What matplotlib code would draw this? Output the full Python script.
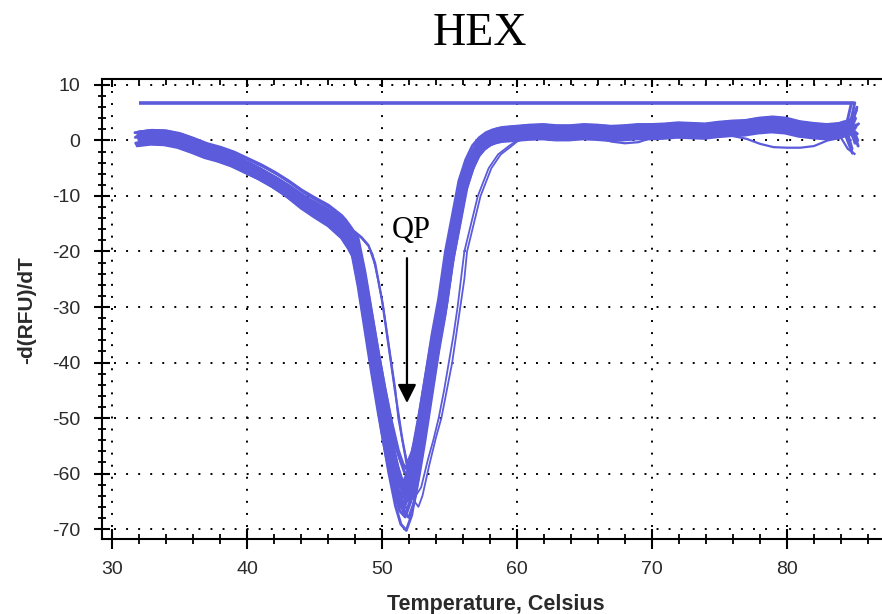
import matplotlib
matplotlib.use("Agg")
import matplotlib.pyplot as plt
import numpy as np
from matplotlib.ticker import MultipleLocator, FixedLocator

plt.rcParams["axes.unicode_minus"] = False

# ---------------- text ----------------
title = "HEX"
x_label = "Temperature, Celsius"
y_label = "-d(RFU)/dT"
annot_text = "QP"
x_ticks = [30, 40, 50, 60, 70, 80]
y_ticks = [10, 0, -10, -20, -30, -40, -50, -60, -70]

# ---------------- data ----------------
threshold = 6.8
threshold_span = [32.0, 85.0]

base_t = [32.0, 33.0, 34.0, 35.0, 36.0, 37.0, 38.0, 39.0, 40.0, 41.0, 42.0, 43.0,
          44.0, 45.0, 46.0, 47.0, 47.5, 48.0, 48.5, 49.0, 49.5, 50.0, 50.5, 51.0,
          51.4, 51.8, 52.2, 52.6, 53.0, 53.5, 54.0, 54.5, 55.0, 55.5, 56.0, 56.5,
          57.0, 57.5, 58.0, 58.5, 59.0, 60.0, 61.0, 62.0, 63.0, 64.0, 65.0, 66.0,
          67.0, 68.0, 69.0, 70.0, 71.0, 72.0, 73.0, 74.0, 75.0, 76.0, 77.0, 78.0,
          79.0, 80.0, 81.0, 82.0, 83.0, 84.0, 84.5, 85.0]
base_v = [0.3, 0.6, 0.5, 0.0, -0.9, -1.9, -2.6, -3.5, -4.7, -5.9, -7.3, -8.9,
          -10.7, -12.2, -13.6, -15.6, -17.3, -19.3, -25.5, -33.0, -40.5, -47.5, -54.0, -59.5,
          -62.5, -63.5, -61.0, -56.0, -50.5, -43.0, -35.5, -29.0, -20.7, -14.5, -8.2, -4.5,
          -2.0, -0.6, 0.3, 0.8, 1.1, 1.3, 1.5, 1.6, 1.4, 1.4, 1.6, 1.5,
          1.3, 1.4, 1.6, 1.6, 1.7, 1.9, 1.8, 1.7, 2.0, 2.2, 2.3, 2.7,
          2.9, 2.7, 2.1, 1.8, 1.6, 1.8, 2.2, 2.0]

# per-well variations of the main band
band_shift = [-0.30, -0.24, -0.18, -0.12, -0.08, -0.04, 0.00, 0.04, 0.08, 0.12, 0.18, 0.24,
              0.30, -0.27, -0.15, -0.02, 0.06, 0.15, 0.21, -0.21, -0.06, 0.10, 0.27, 0.02]
band_scale = [1.02, 0.96, 1.05, 0.98, 1.08, 1.00, 1.10, 0.95, 1.03, 0.99, 1.06, 0.97,
              1.01, 1.04, 0.96, 1.07, 0.98, 1.02, 0.94, 1.00, 1.05, 0.99, 1.03, 0.97]
band_offset = [1.1, -0.75, 0.4, -1.1, 0.75, 0.0, -0.4, 1.25, -1.0, 0.5, -0.6, 1.0,
               -0.1, 0.25, -1.25, 0.9, -0.5, 0.6, 0.1, -0.9, 1.2, -0.25, 0.45, -1.05]
band_end = [2.0, 6.6, -1.5, 3.5, 0.5, 5.0, 1.5, -0.5, 4.0, 2.5, 6.0, 0.0,
            3.0, 1.0, -2.3, 4.5, 2.2, 5.5, 1.2, 3.8, 0.8, 2.8, -1.0, 6.8]

# outlier wells (peak region)
o1_t = [46.0, 47.0, 47.5, 48.0, 48.5, 49.0, 49.3, 49.7, 50.1, 50.4, 50.7, 51.0, 51.2,
        51.5, 51.85, 52.2, 52.6, 53.0, 53.5, 54.0, 54.5, 55.0, 55.5, 56.0, 56.5, 57.0, 58.0, 59.0]
o1_v = [-13.6, -15.2, -15.9, -16.6, -17.6, -19.0, -20.5, -25.0, -30.0, -35.0, -40.0, -45.0, -50.0,
        -54.0, -58.0, -56.0, -52.0, -46.5, -40.5, -34.0, -27.5, -20.5, -14.0, -8.0, -4.3, -1.9, 0.3, 1.1]
o2_t = [46.0, 47.0, 47.5, 48.0, 48.5, 49.0, 49.5, 50.0, 50.5, 51.0, 51.5, 52.0, 52.4,
        52.7, 53.0, 53.5, 54.0, 54.4, 54.8, 55.2, 55.5, 55.8, 56.1, 56.3, 56.8, 57.3, 58.1,
        58.8, 59.5, 60.0, 61.0]
o2_v = [-13.6, -15.2, -15.9, -16.6, -17.6, -19.0, -22.5, -29.0, -37.5, -46.0, -54.0, -61.0, -65.0,
        -66.0, -64.0, -58.5, -53.5, -50.0, -45.0, -40.0, -35.0, -30.0, -25.0, -20.0, -15.0, -10.0, -5.0,
        -2.5, -1.2, -0.2, 0.8]
o3_t = [46.0, 47.0, 47.5, 48.0, 48.5, 49.0, 49.5, 50.0, 50.5, 51.0, 51.5, 52.0, 52.5,
        52.9, 53.4, 53.8, 54.2, 54.6, 54.95, 55.3, 55.6, 55.85, 56.1, 56.6, 57.1, 57.9,
        58.6, 59.4, 60.0, 61.0]
o3_v = [-13.4, -15.0, -15.7, -16.4, -17.4, -18.8, -22.0, -28.5, -37.0, -45.5, -53.5, -60.0, -64.0,
        -62.5, -57.5, -54.0, -50.0, -45.0, -40.0, -35.0, -30.0, -25.0, -20.0, -15.0, -10.0, -5.0,
        -2.5, -1.0, 0.0, 0.9]
dip1_t = [62.0, 64.0, 66.0, 67.0, 68.0, 69.0, 70.0, 72.0]
dip1_v = [1.0, 0.8, 0.5, -0.2, -0.5, -0.3, 0.5, 1.0]
dip2_t = [76.0, 77.0, 78.0, 79.0, 80.0, 81.0, 82.0, 83.0, 84.0, 84.5, 85.0]
dip2_v = [0.8, 0.3, -0.6, -1.2, -1.3, -1.3, -1.0, 0.0, 0.5, -1.5, -2.4]

arrow_x = 51.85
arrow_from = -21.2
arrow_to = -47.3
annot_xy = (52.2, -17.5)

# ---------------- style ----------------
trace_color = "#5b5bdc"
text_color = "#2a2a2a"
W, H = 882, 614

fig = plt.figure(figsize=(W / 100, H / 100), dpi=100)
ax = fig.add_axes([102 / W, 1 - 539 / H, (890 - 102) / W, (539 - 79) / H])

ax.set_xlim(29.26, 87.63)
ax.set_ylim(-71.8, 11.08)

# threshold line
ax.plot(threshold_span, [threshold, threshold], color=trace_color, lw=2.6,
        solid_capstyle="butt", zorder=3)

bt = np.array(base_t)
bv = np.array(base_v)
for s, k, o, e in zip(band_shift, band_scale, band_offset, band_end):
    yy = k * bv + o
    yy[-1] = e
    ax.plot(bt + s, yy, color=trace_color, lw=2.1, solid_capstyle="round",
            solid_joinstyle="round", zorder=3)

for tt, vv in [(o1_t, o1_v), (o2_t, o2_v), (o3_t, o3_v)]:
    ax.plot(tt, vv, color=trace_color, lw=1.3, zorder=3)
for tt, vv in [(dip1_t, dip1_v), (dip2_t, dip2_v)]:
    ax.plot(tt, vv, color=trace_color, lw=1.6, zorder=3)

# grid
ax.xaxis.set_major_locator(FixedLocator(x_ticks))
ax.yaxis.set_major_locator(FixedLocator(y_ticks))
ax.xaxis.set_minor_locator(MultipleLocator(2))
ax.yaxis.set_minor_locator(MultipleLocator(2))
ax.grid(True, which="major", color="black", linestyle=(0, (1, 5.2)), linewidth=1.4, zorder=1)

for side in ["left", "bottom"]:
    ax.spines[side].set_linewidth(1.5)
    ax.spines[side].set_color("black")
ax.spines["right"].set_visible(False)
ax.spines["top"].set_visible(False)

ax.tick_params(axis="y", which="major", direction="inout", length=11, width=1.5,
               labelsize=14, labelcolor=text_color, pad=10)
ax.tick_params(axis="y", which="minor", direction="inout", length=6, width=1.3)
ax.tick_params(axis="x", which="major", direction="inout", length=15, width=1.5,
               labelsize=14, labelcolor=text_color, pad=8)
ax.tick_params(axis="x", which="minor", direction="inout", length=7, width=1.3)
for lab in ax.get_xticklabels() + ax.get_yticklabels():
    lab.set_family("Liberation Sans")

sec = ax.secondary_xaxis("top")
sec.xaxis.set_major_locator(FixedLocator(x_ticks))
sec.xaxis.set_minor_locator(MultipleLocator(2))
sec.tick_params(which="major", direction="in", length=6, width=1.5, labeltop=False)
sec.tick_params(which="minor", direction="in", length=4, width=1.3)
sec.spines["top"].set_linewidth(1.5)

# annotation
ax.annotate("", xy=(arrow_x, arrow_to), xytext=(arrow_x, arrow_from),
            arrowprops=dict(arrowstyle="-|>", color="black", lw=1.6,
                            mutation_scale=28, shrinkA=0, shrinkB=0), zorder=5)
ax.text(annot_xy[0], annot_xy[1], annot_text, family="Liberation Serif", fontsize=22,
        ha="center", va="baseline", color="black", zorder=5)

fig.text(480 / W, 1 - 45 / H, title, family="Liberation Serif", fontsize=33,
         ha="center", va="baseline", color="black")
fig.text(496 / W, 1 - 610 / H, x_label, family="Liberation Sans", fontweight="bold",
         fontsize=15.5, ha="center", va="baseline", color=text_color)
fig.text(27 / W, 1 - 310 / H, y_label, family="Liberation Sans", fontweight="bold",
         fontsize=15, ha="center", va="center", rotation=90, color=text_color)

fig.savefig("out.png", dpi=100)
